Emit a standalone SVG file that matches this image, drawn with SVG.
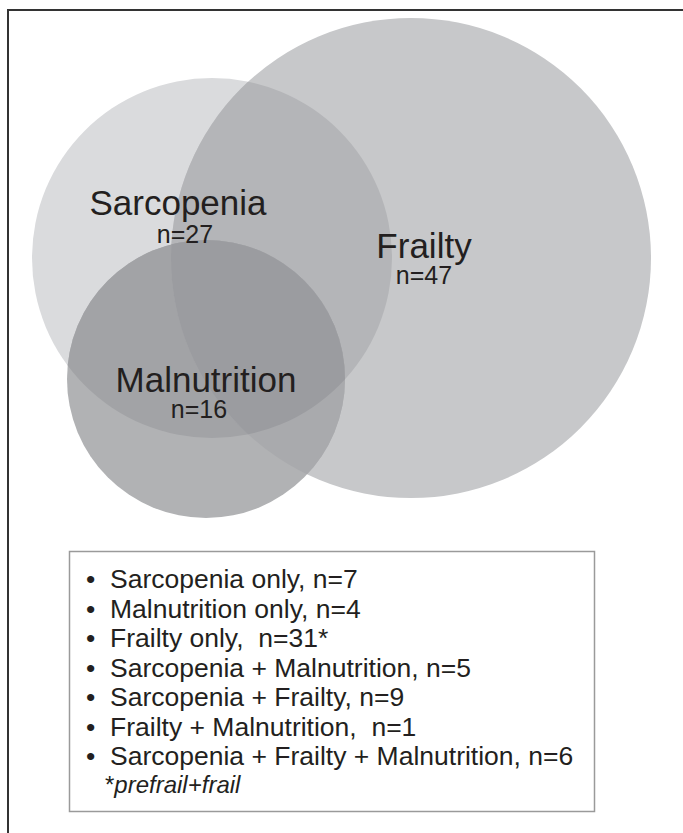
<svg xmlns="http://www.w3.org/2000/svg" width="683" height="833" viewBox="0 0 683 833">
<style>
.lbl{font-family:"Liberation Sans",Arial,sans-serif;fill:#231f20;text-anchor:middle}
.big{font-size:35px}
.n{font-size:25px}
.leg{font-family:"Liberation Sans",Arial,sans-serif;font-size:26.5px;fill:#231f20}
.foot{font-family:"Liberation Sans",Arial,sans-serif;font-size:24px;fill:#231f20;font-style:italic}
</style>
<defs>
<clipPath id="cS"><circle cx="212" cy="258" r="180"/></clipPath>
<clipPath id="cF"><circle cx="411" cy="258" r="240"/></clipPath>
</defs>
<rect width="683" height="833" fill="#ffffff"/>
<path d="M8,833 V10 H683" fill="none" stroke="#333" stroke-width="2"/>
<g id="sarcopenia">
<circle cx="212" cy="258" r="180" fill="#dadbdd"/>
</g>
<g id="frailty">
<circle cx="411" cy="258" r="240" fill="#c7c8ca"/>
<circle cx="411" cy="258" r="240" fill="#b4b5b8" clip-path="url(#cS)"/>
</g>
<g id="malnutrition">
<circle cx="206" cy="379" r="139" fill="#b1b2b4"/>
<circle cx="206" cy="379" r="139" fill="#a2a3a6" clip-path="url(#cS)"/>
<circle cx="206" cy="379" r="139" fill="#a9aaad" clip-path="url(#cF)"/>
<g clip-path="url(#cS)"><circle cx="206" cy="379" r="139" fill="#9b9ca0" clip-path="url(#cF)"/></g>
</g>
<g id="labels">
<text class="lbl big" x="178" y="215">Sarcopenia</text>
<text class="lbl n" x="185" y="243">n=27</text>
<text class="lbl big" x="424" y="258">Frailty</text>
<text class="lbl n" x="424" y="284">n=47</text>
<text class="lbl big" x="206" y="392">Malnutrition</text>
<text class="lbl n" x="199" y="418">n=16</text>
</g>
<g id="legend">
<rect x="69.5" y="551.5" width="525" height="260" fill="#ffffff" stroke="#9a9a9a" stroke-width="1.5"/>
<text class="leg" x="86" y="588">•</text><text class="leg" x="110" y="588">Sarcopenia only, n=7</text>
<text class="leg" x="86" y="617.5">•</text><text class="leg" x="110" y="617.5">Malnutrition only, n=4</text>
<text class="leg" x="86" y="647">•</text><text class="leg" x="110" y="647" xml:space="preserve">Frailty only,  n=31*</text>
<text class="leg" x="86" y="676.5">•</text><text class="leg" x="110" y="676.5">Sarcopenia + Malnutrition, n=5</text>
<text class="leg" x="86" y="706">•</text><text class="leg" x="110" y="706">Sarcopenia + Frailty, n=9</text>
<text class="leg" x="86" y="735.5">•</text><text class="leg" x="110" y="735.5" xml:space="preserve">Frailty + Malnutrition,  n=1</text>
<text class="leg" x="86" y="765">•</text><text class="leg" x="110" y="765">Sarcopenia + Frailty + Malnutrition, n=6</text>
<text class="foot" x="105" y="793"><tspan font-style="normal">*</tspan>prefrail+frail</text>
</g>
</svg>
